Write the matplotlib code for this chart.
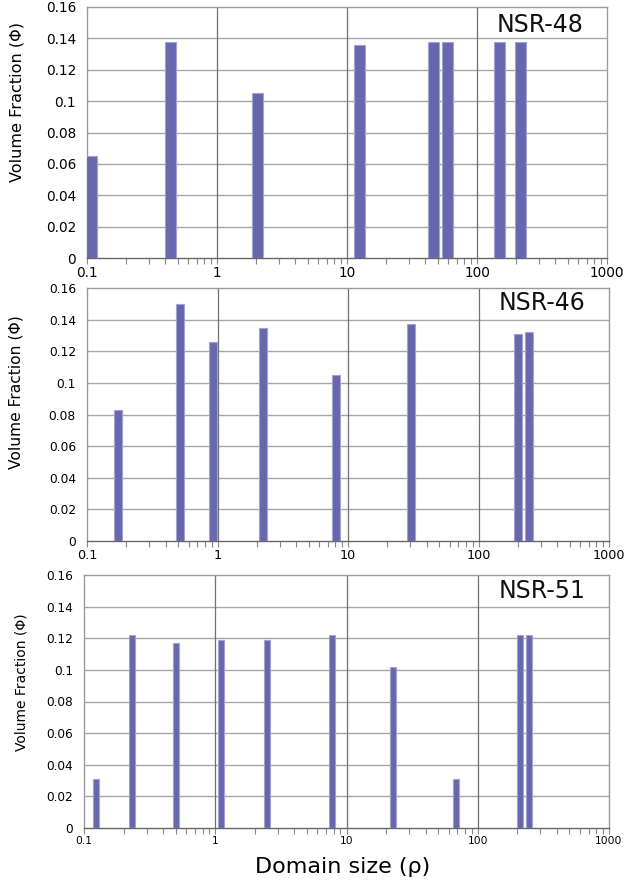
import numpy as np
import matplotlib
matplotlib.use("Agg")
import matplotlib.pyplot as plt
from matplotlib.ticker import LogLocator, NullFormatter, FixedLocator

# domain size (rho) and volume fraction (phi) for each sample
sizes_48 = [0.109, 0.44, 2.06, 12.5, 46.4, 59.8, 150, 217]
phi_48 = [0.065, 0.138, 0.105, 0.136, 0.138, 0.138, 0.138, 0.138]

sizes_46 = [0.173, 0.517, 0.93, 2.24, 8.16, 30.3, 202, 242]
phi_46 = [0.083, 0.150, 0.126, 0.135, 0.105, 0.137, 0.131, 0.132]

sizes_51 = [0.124, 0.231, 0.50, 1.10, 2.5, 7.7, 22.8, 68.2, 210, 247]
phi_51 = [0.031, 0.122, 0.117, 0.119, 0.119, 0.122, 0.102, 0.031, 0.122, 0.122]

y_ticks = [0, 0.02, 0.04, 0.06, 0.08, 0.1, 0.12, 0.14, 0.16]
y_ticklabels = ["0", "0.02", "0.04", "0.06", "0.08", "0.1", "0.12", "0.14", "0.16"]
x_ticks = [0.1, 1, 10, 100, 1000]
x_ticklabels = ["0.1", "1", "10", "100", "1000"]

BAR_COLOR = "#6767ad"
BAR_EDGE = "#a3a3d3"

fig = plt.figure(figsize=(6.44, 8.86), dpi=100)

panels = [
    # name, sizes, phi, rect, bar width (decades), y tick fs, x tick fs, ylabel fs, ylabel pos, title y
    ("NSR-48", sizes_48, phi_48, [87/644, 1-258/886, 520/644, 251/886], 0.085, 9.8, 9.8, 11.6, (-0.121, 0.62), 0.928),
    ("NSR-46", sizes_46, phi_46, [87/644, 1-541/886, 522/644, 253/886], 0.061, 8.8, 9.2, 11.2, (-0.121, 0.59), 0.94),
    ("NSR-51", sizes_51, phi_51, [84/644, 1-828/886, 525/644, 253/886], 0.046, 8.7, 7.7, 10.0, (-0.105, 0.577), 0.937),
]

for name, sizes, phi, rect, w, yfs, xfs, lfs, lpos, ty in panels:
    ax = fig.add_axes(rect)
    ax.set_xscale("log")
    ax.set_xlim(0.1, 1000)
    ax.set_ylim(0, 0.16)

    # bars of constant pixel width on the log axis
    c = np.array(sizes)
    left = c * 10 ** (-w / 2)
    width = c * (10 ** (w / 2) - 10 ** (-w / 2))
    ax.bar(left, phi, width=width, align="edge", color=BAR_COLOR,
           edgecolor=BAR_EDGE, linewidth=0.8, zorder=3)

    # grid
    for yv in y_ticks[1:-1]:
        ax.axhline(yv, color="#a6a6a6", linewidth=1.0, zorder=1)
    for xv in x_ticks[1:-1]:
        ax.axvline(xv, color="#707070", linewidth=0.9, zorder=1)

    ax.yaxis.set_major_locator(FixedLocator(y_ticks))
    ax.set_yticklabels(y_ticklabels, fontsize=yfs)
    ax.tick_params(axis="y", length=0, pad=8)

    ax.xaxis.set_major_locator(FixedLocator(x_ticks))
    ax.set_xticklabels(x_ticklabels, fontsize=xfs)
    ax.xaxis.set_minor_locator(LogLocator(base=10, subs=np.arange(2, 10)))
    ax.xaxis.set_minor_formatter(NullFormatter())
    ax.tick_params(axis="x", which="both", direction="out", length=4,
                   width=0.8, color="#888888", pad=2)

    for s in ["top", "right", "left"]:
        ax.spines[s].set_color("#9a9a9a")
        ax.spines[s].set_linewidth(1.0)
    ax.spines["bottom"].set_color("#666666")
    ax.spines["bottom"].set_linewidth(1.0)

    ax.set_ylabel("Volume Fraction (\u03a6)", fontsize=lfs)
    ax.yaxis.set_label_coords(*lpos)

    ax.text(0.955, ty, name, transform=ax.transAxes, ha="right", va="center",
            fontsize=17, color="#111111")

fig.text(343/644, 1-867/886, "Domain size (\u03c1)", ha="center", va="center",
         fontsize=16)

fig.savefig("out.png", dpi=100)
